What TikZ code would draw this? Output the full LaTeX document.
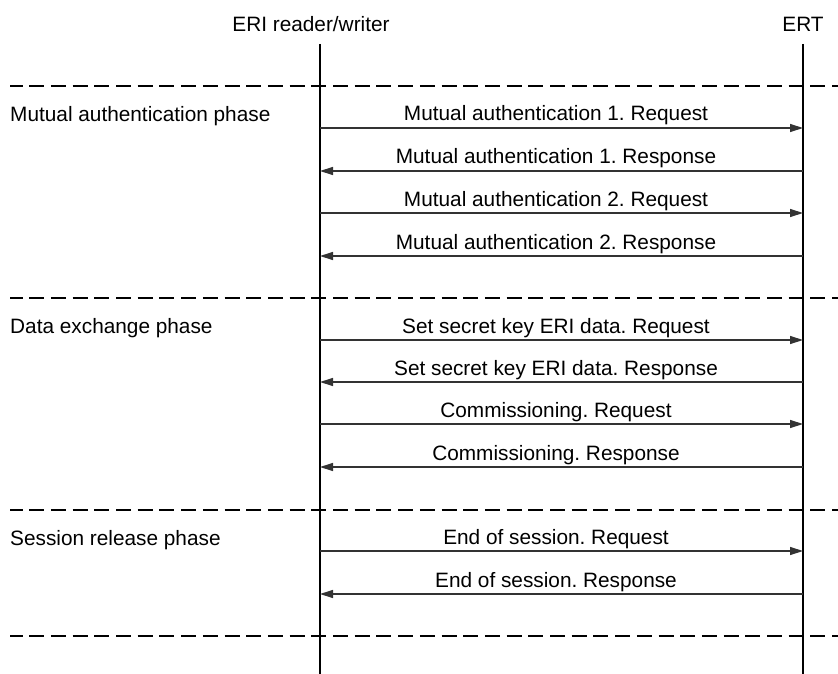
\documentclass[tikz,border=0pt]{standalone}
\usepackage{fontspec}
\setmainfont{Liberation Sans}
\usetikzlibrary{arrows.meta}
\frenchspacing
\begin{document}
\begin{tikzpicture}[x=1pt,y=-1pt,
  txt/.style={font=\fontsize{20.8}{24}\selectfont, inner sep=0pt, text=black},
  lifeline/.style={line width=2.5pt, black},
  phaseline/.style={line width=1.3pt, black, dash pattern=on 15pt off 6.7pt, dash phase=2.5pt},
  msg/.style={line width=1.3pt, black!80, -{Triangle[length=13pt,width=8pt]}}]
  % canvas
  \useasboundingbox (0,0) rectangle (838,674);

  % participants
  \node[txt, anchor=base] (rw) at (311,32) {ERI reader/writer};
  \node[txt, anchor=base] (ert) at (803,32) {ERT};
  \coordinate (rwTop) at (320,44);
  \coordinate (rwBot) at (320,674);
  \coordinate (ertTop) at (803,44);
  \coordinate (ertBot) at (803,674);
  \draw[lifeline] (rwTop) -- (rwBot);
  \draw[lifeline] (ertTop) -- (ertBot);

  % phase separators
  \foreach \i/\y in {1/86, 2/298, 3/510, 4/636} {
    \coordinate (sepL\i) at (10,\y);
    \coordinate (sepR\i) at (838,\y);
    \draw[phaseline] (sepL\i) -- (sepR\i);
  }

  % phase names
  \node[txt, anchor=base west] (ph1) at (10,121.5) {Mutual authentication phase};
  \node[txt, anchor=base west] (ph2) at (10,333.5) {Data exchange phase};
  \node[txt, anchor=base west] (ph3) at (10,545) {Session release phase};

  % messages: index / y / direction (r = to ERT, l = to reader) / label
  \foreach \i/\y/\d/\t in {
      1/128/r/{Mutual authentication 1. Request},
      2/171/l/{Mutual authentication 1. Response},
      3/213/r/{Mutual authentication 2. Request},
      4/256/l/{Mutual authentication 2. Response},
      5/340/r/{Set secret key ERI data. Request},
      6/382/l/{Set secret key ERI data. Response},
      7/424/r/{Commissioning. Request},
      8/467/l/{Commissioning. Response},
      9/551/r/{End of session. Request},
      10/594/l/{End of session. Response}} {
    \coordinate (a\i) at (320,\y);
    \coordinate (b\i) at (803,\y);
    \node[txt, anchor=base] (t\i) at (556,\y-7) {\t};
    \if\d r
      \draw[msg] (a\i) -- (b\i);
    \else
      \draw[msg] (b\i) -- (a\i);
    \fi
  }
\end{tikzpicture}
\end{document}
